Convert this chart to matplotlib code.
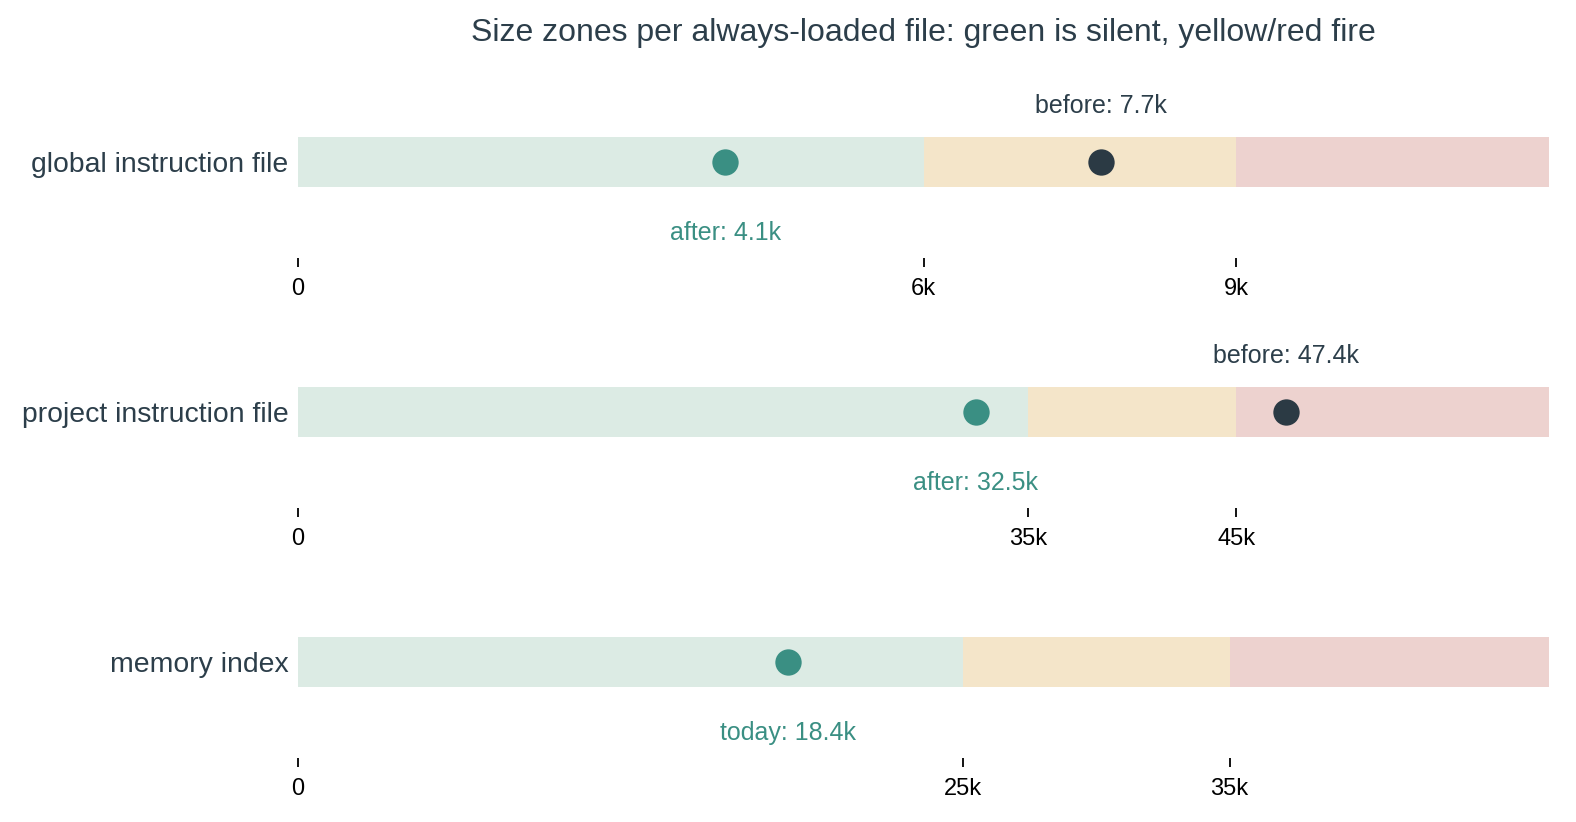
import matplotlib
matplotlib.use("Agg")
import matplotlib.pyplot as plt

# ---- data ----
files = ["global instruction file", "project instruction file", "memory index"]
green_max = [6000, 35000, 25000]
red_min = [9000, 45000, 35000]
axis_max = [12000, 60000, 47000]
before_vals = [7700, 47400, None]
after_vals = [4100, 32500, 18400]
after_names = ["after", "after", "today"]
tick_labels = [["0", "6k", "9k"], ["0", "35k", "45k"], ["0", "25k", "35k"]]

title = "Size zones per always-loaded file: green is silent, yellow/red fire"

# ---- style ----
plt.rcParams['font.family'] = ['Liberation Sans', 'DejaVu Sans']
C_GREEN = "#dcebe4"
C_YELLOW = "#f4e5c9"
C_RED = "#edd2cf"
C_TEAL = "#3a8f83"
C_DARK = "#2b3a44"
C_TEXT = "#2c3e4a"

W, H = 1576, 822
fig = plt.figure(figsize=(W / 100, H / 100), dpi=100)

left_px, right_px = 298, 1549
row_gap = 250
for i in range(3):
    bottom_px = 258 + row_gap * i
    top_px = 88 + row_gap * i
    ax = fig.add_axes([left_px / W, 1 - bottom_px / H,
                       (right_px - left_px) / W, (bottom_px - top_px) / H])
    ax.set_xlim(0, axis_max[i])
    ax.set_ylim(-1.92, 1.48)
    ax.barh(0, green_max[i], left=0, height=1.0, color=C_GREEN, linewidth=0)
    ax.barh(0, red_min[i] - green_max[i], left=green_max[i], height=1.0,
            color=C_YELLOW, linewidth=0)
    ax.barh(0, axis_max[i] - red_min[i], left=red_min[i], height=1.0,
            color=C_RED, linewidth=0)
    ax.scatter([after_vals[i]], [0], s=360, color=C_TEAL, zorder=3, linewidths=0)
    ax.text(after_vals[i], -1.42, f"{after_names[i]}: {after_vals[i]/1000:.1f}k",
            ha="center", va="center", fontsize=18, color=C_TEAL)
    if before_vals[i] is not None:
        ax.scatter([before_vals[i]], [0], s=360, color=C_DARK, zorder=3, linewidths=0)
        ax.text(before_vals[i], 1.12, f"before: {before_vals[i]/1000:.1f}k",
                ha="center", va="center", fontsize=18, color=C_TEXT)
    ax.set_xticks([0, green_max[i], red_min[i]])
    ax.set_xticklabels(tick_labels[i])
    ax.set_yticks([0])
    ax.set_yticklabels([files[i]])
    ax.tick_params(axis="x", length=6.5, width=1.3, pad=8, labelsize=17,
                   colors="black")
    ax.tick_params(axis="y", length=0, pad=7, labelsize=20.4, labelcolor=C_TEXT)
    for s in ax.spines.values():
        s.set_visible(False)

fig.text((left_px + right_px) / 2 / W, 1 - 33 / H, title,
         ha="center", va="center", fontsize=23, color=C_TEXT)

fig.savefig("out.png", dpi=100)
